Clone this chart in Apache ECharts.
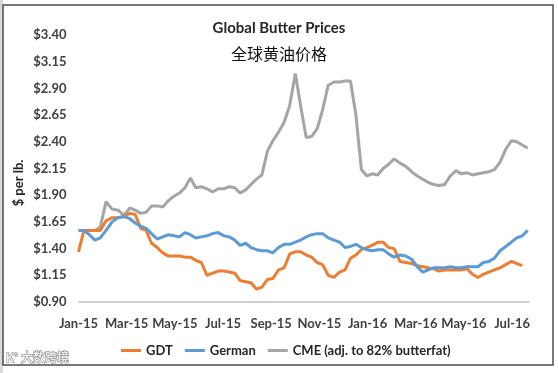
<!DOCTYPE html>
<html>
<head>
<meta charset="utf-8">
<script src="https://cdn.jsdelivr.net/npm/echarts@6/dist/echarts.min.js"></script>
<style>
html,body{margin:0;padding:0;background:#fff;}
#chart{width:558px;height:373px;}
</style>
</head>
<body>
<div id="chart"></div>
<script>
// Weekly observation dates
const dates = [
'2015-01-01','2015-01-08','2015-01-15','2015-01-22','2015-01-29','2015-02-05','2015-02-12','2015-02-19','2015-02-26',
'2015-03-05','2015-03-12','2015-03-19','2015-03-26','2015-04-02','2015-04-09','2015-04-16','2015-04-23','2015-04-30',
'2015-05-07','2015-05-14','2015-05-21','2015-05-28','2015-06-04','2015-06-11','2015-06-18','2015-06-25',
'2015-07-02','2015-07-09','2015-07-16','2015-07-23','2015-07-30','2015-08-06','2015-08-13','2015-08-20','2015-08-27',
'2015-09-03','2015-09-10','2015-09-17','2015-09-24','2015-10-01','2015-10-08','2015-10-15','2015-10-22','2015-10-29',
'2015-11-05','2015-11-12','2015-11-19','2015-11-26','2015-12-03','2015-12-10','2015-12-17','2015-12-24','2015-12-31',
'2016-01-07','2016-01-14','2016-01-21','2016-01-28','2016-02-04','2016-02-11','2016-02-18','2016-02-25',
'2016-03-03','2016-03-10','2016-03-17','2016-03-24','2016-03-31','2016-04-07','2016-04-14','2016-04-21','2016-04-28',
'2016-05-05','2016-05-12','2016-05-19','2016-05-26','2016-06-02','2016-06-09','2016-06-16','2016-06-23','2016-06-30',
'2016-07-07','2016-07-14','2016-07-21'
];

const gdt = [
1.37,1.57,1.57,1.57,1.57,1.66,1.69,1.69,1.70,1.73,1.72,1.59,1.57,1.45,1.41,1.36,1.33,1.33,
1.33,1.32,1.32,1.29,1.27,1.15,1.17,1.19,1.19,1.18,1.17,1.10,1.09,1.08,1.02,1.04,1.11,
1.12,1.20,1.22,1.35,1.37,1.37,1.34,1.32,1.27,1.25,1.15,1.13,1.18,1.20,1.31,1.34,1.39,1.41,
1.43,1.46,1.46,1.41,1.40,1.28,1.27,1.26,1.24,1.23,1.22,1.21,1.19,1.20,1.20,1.20,1.20,
1.21,1.16,1.13,1.16,1.18,1.20,1.22,1.25,1.28,1.26,1.24,null
];

const german = [
1.57,1.57,1.53,1.48,1.50,1.57,1.65,1.69,1.70,1.68,1.64,1.61,1.59,1.54,1.49,1.51,1.53,1.52,
1.51,1.55,1.53,1.50,1.51,1.52,1.54,1.55,1.52,1.51,1.48,1.43,1.45,1.41,1.39,1.38,1.38,
1.36,1.41,1.44,1.44,1.46,1.48,1.51,1.53,1.54,1.54,1.50,1.48,1.46,1.41,1.42,1.44,1.41,1.39,
1.38,1.39,1.39,1.35,1.32,1.34,1.33,1.30,1.23,1.18,1.20,1.22,1.22,1.22,1.23,1.22,1.22,
1.23,1.23,1.23,1.27,1.28,1.31,1.38,1.42,1.46,1.50,1.52,1.57
];

const cme = [
1.57,1.57,1.57,1.57,1.60,1.84,1.77,1.76,1.71,1.78,1.76,1.73,1.74,1.80,1.80,1.79,1.85,1.89,
1.92,1.97,2.06,1.97,1.98,1.96,1.93,1.96,1.96,1.98,1.97,1.92,1.95,2.00,2.05,2.09,2.31,
2.41,2.49,2.58,2.74,3.04,2.73,2.44,2.45,2.52,2.70,2.93,2.96,2.96,2.97,2.97,2.65,2.14,2.08,
2.10,2.09,2.15,2.19,2.24,2.20,2.17,2.12,2.08,2.05,2.02,2.00,1.99,2.00,2.08,2.13,2.10,
2.11,2.09,2.10,2.11,2.12,2.14,2.21,2.33,2.41,2.40,2.37,2.34
];

const monthNames = ['Jan','Feb','Mar','Apr','May','Jun','Jul','Aug','Sep','Oct','Nov','Dec'];
const seriesNames = ['GDT','German','CME (adj. to 82% butterfat)'];
const yTicks = { min: 0.90, max: 3.40, step: 0.25 };

function monthIndex(s){
  const p = s.split('-').map(Number);
  const dim = new Date(p[0], p[1], 0).getDate();
  return (p[0]-2015)*12 + (p[1]-1) + (p[2]-1)/dim;
}
function pairs(vals){ return dates.map((d,i)=>[monthIndex(d), vals[i]]); }

const FONT = 'Lato, "Liberation Sans", sans-serif';
const chart = echarts.init(document.getElementById('chart'), null, {renderer:'canvas'});
chart.setOption({
  animation:false,
  backgroundColor:'#ffffff',
  title:[
    {text:'Global Butter Prices', left:'center', top:16,
     textStyle:{fontFamily:FONT, fontWeight:'bold', fontSize:15, color:'#262626'}},
    {text:'全球黄油价格', left:274, top:41, textAlign:'center',
     textStyle:{fontFamily:'"Noto Sans CJK SC", sans-serif', fontWeight:'normal', fontSize:16, color:'#111'}}
  ],
  grid:{left:78.5, right:29, top:35, bottom:71, containLabel:false},
  legend:{
    left:116, top:339, itemWidth:20, itemHeight:3, itemGap:12, icon:'rect',
    data:seriesNames,
    textStyle:{fontFamily:FONT, fontWeight:'bold', fontSize:13, color:'#262626'}
  },
  xAxis:{
    type:'value', min:0, max:18.7, interval:2,
    axisLine:{show:true, lineStyle:{color:'#BFBFBF', width:1.5}},
    axisTick:{show:false}, splitLine:{show:false},
    axisLabel:{
      showMaxLabel:false, margin:15,
      fontFamily:FONT, fontWeight:'bold', fontSize:13, color:'#404040',
      formatter:function(v){
        if (Math.abs(v-Math.round(v))>1e-6) return '';
        v = Math.round(v);
        return monthNames[v%12] + '-' + (15+Math.floor(v/12));
      }
    }
  },
  yAxis:{
    type:'value', min:yTicks.min, max:yTicks.max, interval:yTicks.step,
    axisLine:{show:false}, axisTick:{show:false}, splitLine:{show:false},
    axisLabel:{
      margin:12, fontFamily:FONT, fontWeight:'bold', fontSize:13, color:'#404040',
      formatter:function(v){ return '$' + v.toFixed(2); }
    }
  },
  series:[
    {name:seriesNames[0], type:'line', data:pairs(gdt), symbol:'none', z:3,
     lineStyle:{color:'#ED7D31', width:3}, itemStyle:{color:'#ED7D31'}},
    {name:seriesNames[1], type:'line', data:pairs(german), symbol:'none', z:4,
     lineStyle:{color:'#5B9BD5', width:3}, itemStyle:{color:'#5B9BD5'}},
    {name:seriesNames[2], type:'line', data:pairs(cme), symbol:'none', z:2,
     lineStyle:{color:'#A5A5A5', width:3}, itemStyle:{color:'#A5A5A5'}}
  ],
  graphic:[
    {type:'rect', shape:{x:0,y:0,width:3,height:373}, style:{fill:'#d9d9d9'}, silent:true},
    {type:'rect', shape:{x:3,y:5,width:550,height:360}, style:{fill:'none', stroke:'#4d4d4d', lineWidth:1.5}, silent:true},
    {type:'text', x:19, y:183, rotation:Math.PI/2,
     style:{text:'$ per lb.', fontFamily:FONT, fontWeight:'bold', fontSize:13, fill:'#262626',
            textAlign:'center', textVerticalAlign:'middle'}},
    {type:'text', x:6, y:351,
     style:{text:'K° 大数跨境', fontFamily:'"Noto Sans CJK SC", sans-serif', fontSize:12, fill:'#ffffff',
            stroke:'#9a9a9a', lineWidth:1.5}}
  ]
});
</script>
</body>
</html>
